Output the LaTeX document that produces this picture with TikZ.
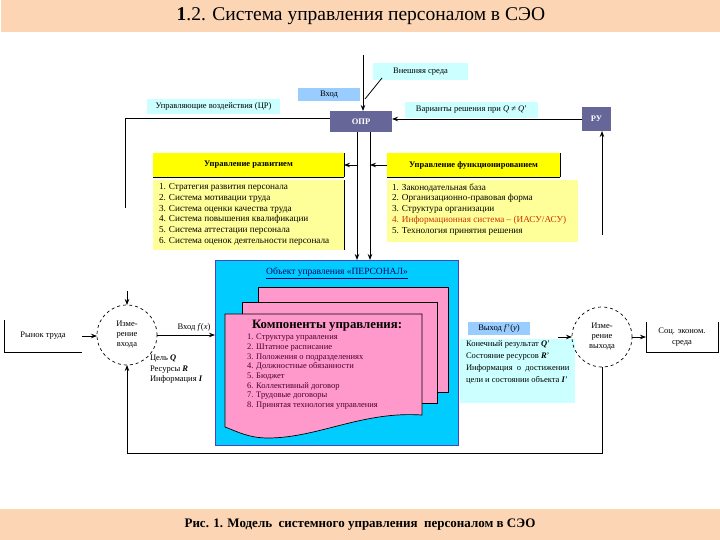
\documentclass[tikz,border=0pt]{standalone}
\usepackage{fontspec}
\setmainfont{Liberation Serif}
\usetikzlibrary{arrows.meta}
\definecolor{peach}{HTML}{FCD5B4}
\definecolor{lcyan}{HTML}{CCFFFF}
\definecolor{lblue}{HTML}{99CCFF}
\definecolor{slate}{HTML}{666699}
\definecolor{yel}{HTML}{FFFF00}
\definecolor{lyel}{HTML}{FFFF99}
\definecolor{objcyan}{HTML}{00CCFF}
\definecolor{pink}{HTML}{FF99CC}
\definecolor{redtxt}{HTML}{CC3300}
\definecolor{navy}{HTML}{000066}
\definecolor{pagetxt}{HTML}{4A0030}
\newcommand\myfs[2]{\fontsize{#1}{#2}\selectfont}
\begin{document}
\begin{tikzpicture}[x=1pt,y=-1pt,
  every node/.style={inner sep=0pt, outer sep=0pt},
  sm/.style={font=\myfs{8.5}{10.8}},
  lst/.style={font=\myfs{9.2}{10.8}},
  lab/.style={sm, fill=lcyan},
  blu/.style={sm, fill=lblue},
  dark/.style={fill=slate, text=white, font=\bfseries\myfs{8.5}{10}},
  hdr/.style={fill=yel, font=\bfseries\myfs{8.5}{10}},
  meas/.style={circle, draw, dashed, line width=0.7pt, minimum size=60pt, align=center, font=\myfs{8.5}{10}},
  page/.style={fill=pink, draw=black, line width=0.7pt},
  ln/.style={line width=0.8pt},
  arr/.style={ln, -{Stealth[length=6pt,width=4.5pt]}}]
\useasboundingbox (0,0) rectangle (720,540);

% bands
\node[fill=peach, minimum width=720pt, minimum height=32pt, font=\myfs{19.5}{22}] (title) at (361,16) {\textbf{1}.2. Система управления персоналом в СЭО};
\node[fill=peach, minimum width=720pt, minimum height=31pt, font=\bfseries\myfs{13}{15}] (caption) at (360,524.5) {Рис. 1. Модель \ системного управления \ персоналом в СЭО};

% top boxes
\node[lab, minimum width=95pt, minimum height=17pt] (env) at (420.5,71.5) {Внешняя среда};
\node[blu, minimum width=62pt, minimum height=13pt] (vhodtop) at (329,94.5) {Вход};
\node[lab, minimum width=133pt, minimum height=15pt] (upr) at (213.5,106.5) {Управляющие воздействия (ЦР)};
\node[dark, minimum width=62pt, minimum height=21pt] (opr) at (361,121.5) {ОПР};
\node[lab, minimum width=133pt, minimum height=16pt] (var) at (471.5,110) {Варианты решения при \textit{Q} ≠ \textit{Q}'};
\node[dark, minimum width=29pt, minimum height=24pt] (ru) at (596.5,119) {РУ};

% headers and lists
\node[hdr, minimum width=191pt, minimum height=24pt] (hdrL) at (248.5,165) {Управление развитием};
\node[hdr, minimum width=173pt, minimum height=24pt] (hdrR) at (473.5,165) {Управление функционированием};
\node[fill=lyel, minimum width=191pt, minimum height=70pt] (listL) at (248.5,215) {};
\node[fill=lyel, minimum width=191pt, minimum height=62pt] (listR) at (482.5,211) {};
\draw[line width=0.6pt] (hdrL.north east) -- (hdrL.south east);
\draw[line width=0.6pt] (hdrL.south west) -- (hdrL.south east);
\draw[line width=0.6pt] (listL.north east) -- (listL.south east);
\draw[line width=0.6pt] (hdrR.north east) -- (hdrR.south east);
\draw[line width=0.6pt] (hdrR.south west) -- (hdrR.south east);
\node[lst, anchor=north west, align=left] (itemsL) at (159,183.5) {1. Стратегия развития персонала\\2. Система мотивации труда\\3. Система оценки качества труда\\4. Система повышения квалификации\\5. Система аттестации персонала\\6. Система оценок деятельности персонала};
\node[lst, anchor=north west, align=left] (itemsR) at (392,183.5) {1. Законодательная база\\2. Организационно-правовая форма\\3. Структура организации\\{\color{redtxt}4. Информационная система – (ИАСУ/АСУ)}\\5. Технология принятия решения};

% object of management
\node[fill=objcyan, draw=blue!45!gray, line width=0.6pt, minimum width=243pt, minimum height=185pt] (obj) at (336.5,352.5) {};
\node[font=\myfs{9.5}{11}, text=navy] (objtitle) at (337,273) {\underline{Объект управления «ПЕРСОНАЛ»}};
\node[page, minimum width=190pt, minimum height=105pt] (p3) at (353,340) {};
\node[page, minimum width=195pt, minimum height=101pt] (p2) at (339.5,352.5) {};
\draw[page] (225,314) -- (422,314) -- (422,415)
  .. controls (362,411) and (318,438) .. (268,438)
  .. controls (248,438) and (236,431) .. (225,427) -- cycle;
\node[font=\bfseries\myfs{12.8}{15}, anchor=west] (comp) at (252,326) {Компоненты управления:};
\node[anchor=north west, align=left, text=pagetxt, font=\myfs{8.5}{9.7}] (compitems) at (247,334) {1. Структура управления\\2. Штатное расписание\\3. Положения о подразделениях\\4. Должностные обязанности\\5. Бюджет\\6. Коллективный договор\\7. Трудовые договоры\\8. Принятая технология управления};

% left part
\node[sm, minimum width=78pt, minimum height=32pt] (market) at (43,336) {Рынок труда};
\draw[ln] (market.north west) -- (market.south west) -- (market.south east);
\node[meas] (cin) at (127,335) {Изме-\\рение\\входа};
\node[sm] (vhodfx) at (194,327) {Вход \textit{f}(\textit{x})};
\node[anchor=north west, align=left, font=\myfs{8.5}{10.5}] (goals) at (150,355) {Цель \textbf{\textit{Q}}\\Ресурсы \textbf{\textit{R}}\\Информация \textbf{\textit{I}}};

% right part
\node[blu, minimum width=62pt, minimum height=13pt] (vyhod) at (499,328) {Выход \textit{f}'(\textit{y})};
\node[fill=lcyan, minimum width=115pt, minimum height=64pt] (res) at (517.5,371) {};
\node[anchor=north west, align=left, font=\myfs{8.5}{12}] (restext) at (466,341) {Конечный результат \textbf{\textit{Q}}'\\Состояние ресурсов \textbf{\textit{R}}'\\Информация \ о \ достижении\\цели и состоянии объекта \textbf{\textit{I}}'};
\node[meas] (cout) at (602,337) {Изме-\\рение\\выхода};
\node[sm, align=center, minimum width=72pt, minimum height=30pt] (soc) at (682,337) {Соц. эконом.\\среда};
\draw[ln] (soc.north west) -- (soc.south west) -- (soc.south east) -- (soc.north east);

% connectors
\coordinate (envtop) at (363,55);
\coordinate (envjoin) at (365,99);
\draw[arr] (envtop) -- (envtop |- opr.north);
\draw[ln] ([xshift=9pt,yshift=2pt]env.south west) -- (envjoin);
\draw[arr] (ru.west) -- (opr.east |- ru.west);
\coordinate (lfb) at (125,208);
\draw[ln] ([yshift=3pt]opr.west) -| (lfb);
\draw[arr] ([xshift=-4pt]opr.south) -- ([xshift=-4pt]opr.south |- obj.north);
\draw[arr] ([xshift=9pt]opr.south) -- ([xshift=9pt]opr.south |- obj.north);
\draw[arr] ([xshift=-4pt]opr.south |- hdrL.east) -- (hdrL.east);
\draw[arr] (hdrR.west) -- ([xshift=9pt]opr.south |- hdrR.west);
\coordinate (rufb) at (602,235);
\draw[arr] (rufb) -- (rufb |- ru.south);
\draw[arr] (market.east) -- (market.east -| cin.west);
\draw[arr] (cin.east) -- (cin.east -| obj.west);
\coordinate (cintop) at (127,291);
\draw[arr] (cintop) -- (cin.north);
\coordinate (outin) at (558,337);
\draw[arr] (outin) -- (cout.west);
\draw[arr] (cout.east) -- (soc.west);
\draw[arr] (cout.south) -- ++(0,86) -| (cin.south);
\end{tikzpicture}
\end{document}
